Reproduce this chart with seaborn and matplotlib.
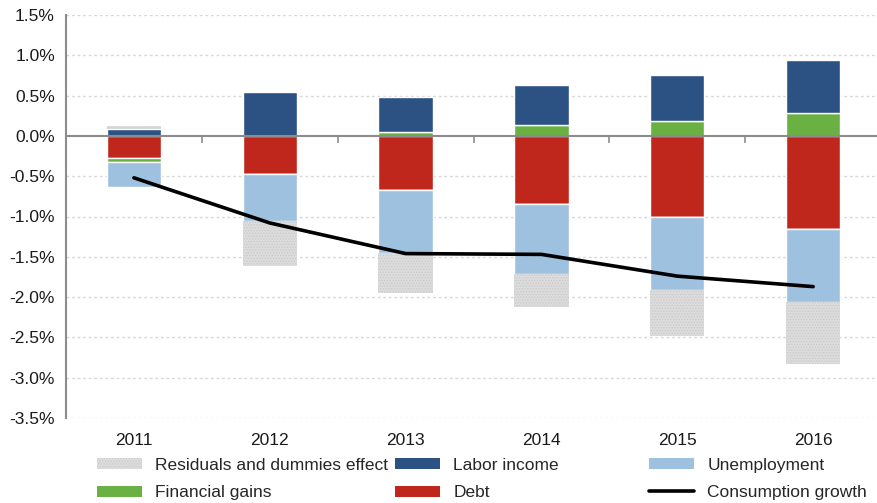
import numpy as np
import pandas as pd
import matplotlib
matplotlib.use("Agg")
import matplotlib.pyplot as plt
import matplotlib.patches as mpatches
from matplotlib.lines import Line2D
import seaborn as sns

# ---- data (percent) ----
years = ["2011", "2012", "2013", "2014", "2015", "2016"]
labor_income = [0.09, 0.54, 0.43, 0.49, 0.56, 0.65]
financial_gains = [-0.05, 0.00, 0.05, 0.14, 0.19, 0.29]
debt = [-0.27, -0.47, -0.67, -0.84, -1.00, -1.15]
unemployment = [-0.32, -0.59, -0.78, -0.87, -0.91, -0.91]
residuals = [0.03, -0.55, -0.50, -0.41, -0.57, -0.77]
consumption_growth = [-0.52, -1.08, -1.46, -1.47, -1.74, -1.87]
y_ticks = [1.5, 1.0, 0.5, 0.0, -0.5, -1.0, -1.5, -2.0, -2.5, -3.0, -3.5]

sns.set_style("white")
plt.rcParams["font.family"] = ["Liberation Sans", "DejaVu Sans"]
plt.rcParams["hatch.linewidth"] = 0.6

C_RES = "#DCDCDC"
C_LAB = "#2C5284"
C_UNE = "#9EC1DF"
C_FIN = "#6BB042"
C_DEBT = "#C0271C"

fig = plt.figure(figsize=(8.77, 5.03), dpi=100)
ax = fig.add_axes([66 / 877, 1 - 418 / 503, 1 - 66 / 877, (418 - 15) / 503])

n = len(years)
pos_bottom = np.zeros(n)
neg_bottom = np.zeros(n)

order = [
    ("Financial gains", financial_gains, C_FIN),
    ("Labor income", labor_income, C_LAB),
    ("Debt", debt, C_DEBT),
    ("Unemployment", unemployment, C_UNE),
    ("Residuals and dummies effect", residuals, C_RES),
]
neg_order = ["Debt", "Financial gains", "Unemployment", "Residuals and dummies effect"]
pos_order = ["Financial gains", "Labor income", "Residuals and dummies effect"]
series = {name: (np.array(vals, float), col) for name, vals, col in order}

def draw(name, mask_sign):
    global pos_bottom, neg_bottom
    vals, col = series[name]
    if mask_sign > 0:
        h = np.where(vals > 0, vals, 0.0)
        b = pos_bottom.copy()
        pos_bottom = pos_bottom + h
    else:
        h = np.where(vals < 0, vals, 0.0)
        b = neg_bottom.copy()
        neg_bottom = neg_bottom + h
    df = pd.DataFrame({"year": years, "val": h})
    is_res = name.startswith("Residuals")
    sns.barplot(data=df, x="year", y="val", bottom=b, color=col, width=0.4,
                saturation=1, ax=ax, errorbar=None,
                edgecolor="#CACACA" if is_res else "white",
                linewidth=0 if is_res else 1.0,
                hatch="......" if is_res else None, zorder=3)

for nm in pos_order:
    draw(nm, 1)
for nm in neg_order:
    draw(nm, -1)

sns.lineplot(x=np.arange(n), y=consumption_growth, color="black", linewidth=2.6,
             ax=ax, zorder=5)

ax.set_xlim(-0.5, 5.47)
ax.set_ylim(-3.5, 1.5)
ax.set_yticks(y_ticks)
ax.set_yticklabels([f"{v:.1f}%" for v in y_ticks])
ax.set_xticks(range(n))
ax.set_xticklabels(years)
ax.set_xlabel("")
ax.set_ylabel("")

for s in ["top", "right", "bottom"]:
    ax.spines[s].set_visible(False)
ax.spines["left"].set_color("#8C8C8C")
ax.spines["left"].set_linewidth(1.5)
ax.tick_params(axis="y", direction="out", length=5, width=1.2, color="#8C8C8C",
               labelsize=12.5, labelcolor="#1A1A1A", pad=3)
ax.tick_params(axis="x", length=0, labelsize=12.5, labelcolor="#1A1A1A", pad=11)

for v in y_ticks:
    if v != 0:
        ax.axhline(v, color="#D8D8D8", linewidth=1.0, linestyle=(0, (2, 2)), zorder=1)
ax.axhline(0, color="#8C8C8C", linewidth=1.5, zorder=4)
ax.vlines(np.arange(n - 1) + 0.5, -0.09, 0, color="#8C8C8C", linewidth=1.2, zorder=4)

fs = 12.5
h_res = mpatches.Patch(facecolor=C_RES, edgecolor="#CACACA", hatch="......", linewidth=0)
h_fin = mpatches.Patch(facecolor=C_FIN, linewidth=0)
h_lab = mpatches.Patch(facecolor=C_LAB, linewidth=0)
h_debt = mpatches.Patch(facecolor=C_DEBT, linewidth=0)
h_une = mpatches.Patch(facecolor=C_UNE, linewidth=0)
h_con = Line2D([], [], color="black", linewidth=2.6)

cols = [
    ([h_res, h_fin], ["Residuals and dummies effect", "Financial gains"], 97),
    ([h_lab, h_debt], ["Labor income", "Debt"], 395),
    ([h_une, h_con], ["Unemployment", "Consumption growth"], 649),
]
for hs, ls, xpx in cols:
    fig.legend(hs, ls, loc="upper left", bbox_to_anchor=(xpx / 877, 1 - 458 / 503),
               frameon=False, fontsize=fs, handlelength=2.6, handleheight=0.6,
               handletextpad=0.75, labelspacing=0.7, borderpad=0, borderaxespad=0)

fig.savefig("out.png", dpi=100)
